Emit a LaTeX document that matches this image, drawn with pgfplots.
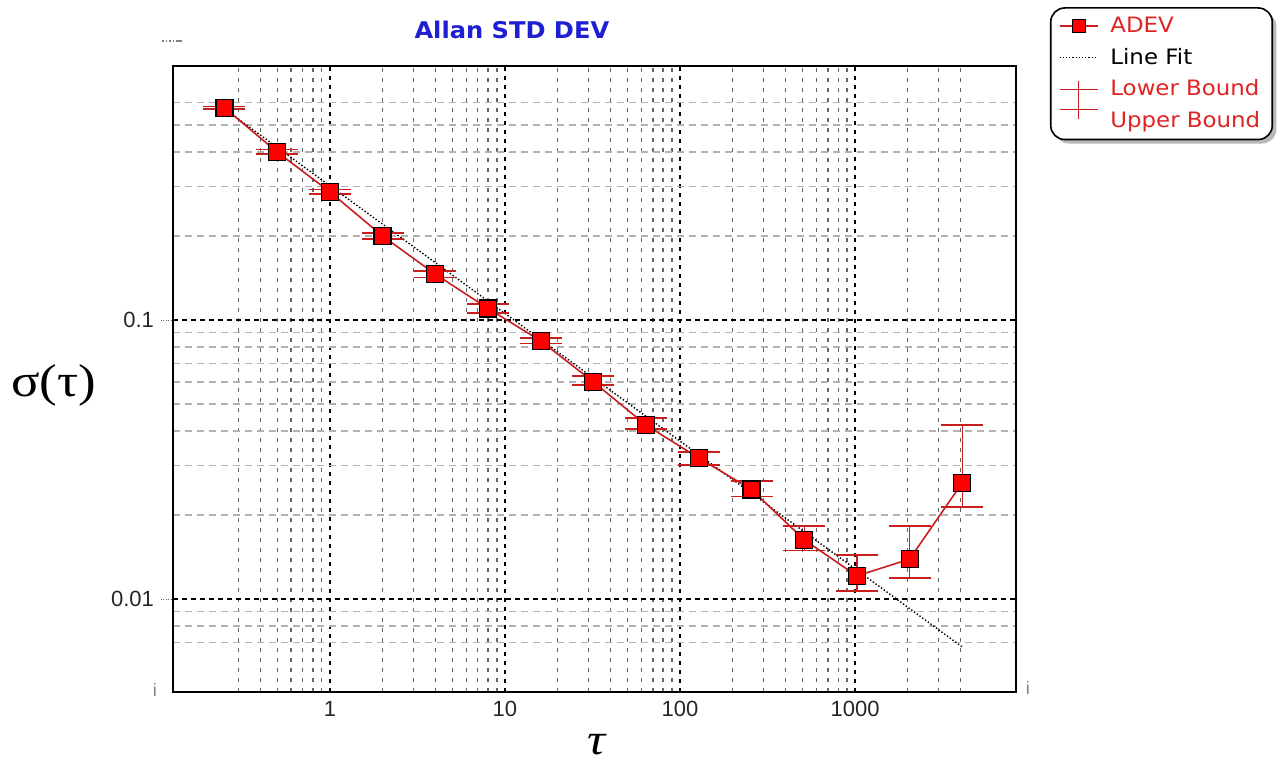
\documentclass[border=0pt]{standalone}
\usepackage{fontspec}
\setmainfont{Liberation Sans}
\newfontfamily\legfont[FakeStretch=1.08]{DejaVu Sans}
\newfontfamily\titlefont[FakeStretch=1.05]{DejaVu Sans}
\newfontfamily\bigserif[FakeStretch=1.15]{Liberation Serif}
\usepackage{pgfplots}
\usepackage{pgfplotstable}
\pgfplotsset{compat=1.18}
\usetikzlibrary{shadows}
\makeatletter
\tikzset{nopre/.code={\def\tikz@preactions{}}}
\makeatother
\definecolor{adevred}{RGB}{200,30,30}
\definecolor{legred}{RGB}{225,35,35}
\definecolor{titleblue}{RGB}{30,30,210}

\pgfplotstableread{
x y ep em
0.25 0.576 0.005 0.005
0.5 0.400 0.009 0.007
1 0.288 0.005 0.005
2 0.200 0.005 0.005
4 0.146 0.004 0.004
8 0.110 0.004 0.004
16 0.0842 0.0020 0.0018
32 0.0600 0.0030 0.0015
64 0.0420 0.0025 0.0013
128 0.0320 0.0017 0.0018
256 0.0247 0.0018 0.0014
512 0.0163 0.0020 0.0014
1024 0.0121 0.0023 0.0014
2048 0.0139 0.0044 0.0020
4096 0.0261 0.0160 0.0047
}\adev

\begin{document}
\begin{tikzpicture}
\useasboundingbox (-86.5pt,-41pt) rectangle (553.5pt,346pt);
\begin{axis}[
  at={(0,0)}, anchor=south west,
  scale only axis, width=421.5pt, height=313pt,
  clip mode=individual,
  xmode=log, ymode=log,
  xmin=0.127, xmax=8300, ymin=0.004642, ymax=0.8136,
  xtick={1,10,100,1000}, xticklabels={1,10,100,1000},
  ytick={0.01,0.1}, yticklabels={0.01,0.1},
  minor xtick={0.3,0.4,0.5,0.6,0.7,0.8,0.9,2,3,4,5,6,7,8,9,20,30,40,50,60,70,80,90,200,300,400,500,600,700,800,900,2000,3000,4000},
  minor ytick={0.007,0.008,0.009,0.02,0.03,0.04,0.05,0.06,0.07,0.08,0.09,0.2,0.3,0.4,0.5,0.6},
  grid=both,
  major x grid style={black, line width=0.7pt, dash pattern=on 2pt off 2.5pt},
  major y grid style={black, line width=0.7pt, dash pattern=on 2.5pt off 2pt},
  minor x grid style={black!60, line width=0.6pt, dash pattern=on 2pt off 3pt},
  minor y grid style={black!30, line width=0.6pt, dash pattern=on 3.5pt off 2.5pt},
  axis line style={black, line width=1pt},
  tick pos=left,
  tick align=outside,
  major tick length=6pt, minor tick length=0pt,
  xtick style={draw=none},
  ytick style={black!60, densely dotted, line width=0.5pt},
  tick label style={font=\fontsize{11}{13}\selectfont, text=black!85},
  xticklabel style={yshift=5pt},
  /pgf/number format/assume math mode=true,
  xlabel={\bigserif\itshape\fontsize{22}{26}\selectfont τ},
  xlabel style={at={(axis description cs:0.502,-0.0847)}, anchor=center},
  ylabel={\bigserif\fontsize{23}{27}\selectfont σ(τ)},
  ylabel style={rotate=-90, at={(axis description cs:-0.1412,0.4904)}, anchor=center},
  legend style={at={(1.0403,1.094)}, anchor=north west,
    font=\legfont\fontsize{10.6}{12}\selectfont,
    draw=black, line width=0.8pt, rounded corners=7pt, fill=white,
    drop shadow={shadow xshift=2pt, shadow yshift=-2pt, fill=black!55},
    legend cell align=left, inner xsep=4pt, inner ysep=2.5pt, row sep=2.3pt,
    /tikz/every odd column/.append style={column sep=4pt}},
]
\addlegendimage{legend image code/.code={
  \draw[nopre, adevred, line width=0.8pt, sharp corners] (0pt,0pt)--(19pt,0pt);
  \draw[nopre, black, fill=red, line width=0.5pt, sharp corners] (6.25pt,-3.25pt) rectangle (12.75pt,3.25pt);}}
\addlegendentry{\textcolor{legred}{ADEV}}
\addlegendimage{legend image code/.code={
  \draw[nopre, black, densely dotted, line width=0.6pt, sharp corners] (0pt,0pt)--(19pt,0pt);}}
\addlegendentry{Line Fit}
\addlegendimage{legend image code/.code={
  \path[nopre] (0pt,0pt) (19pt,0pt);
  \draw[nopre, overlay, adevred, line width=0.7pt, sharp corners] (0pt,0pt)--(19pt,0pt) (0pt,-10pt)--(19pt,-10pt) (9.5pt,4pt)--(9.5pt,-15pt);}}
\addlegendentry{\textcolor{legred}{Lower Bound}}
\addlegendimage{legend image code/.code={\path[nopre] (0pt,0pt) (19pt,0pt);}}
\addlegendentry{\textcolor{legred}{Upper Bound}}

\addplot[forget plot, black, densely dotted, line width=0.7pt] coordinates {(0.25,0.571) (4096,0.00673)};
\addplot[forget plot, color=adevred, line width=0.8pt, mark=square*, mark size=4.25pt,
  mark options={fill=red, draw=black, line width=0.6pt, solid},
  error bars/.cd, y dir=both, y explicit,
  error bar style={adevred, line width=0.7pt},
  error mark options={adevred, rotate=90, mark size=10.5pt, line width=0.7pt}]
  table[x=x, y=y, y error plus=ep, y error minus=em]{\adev};

\node[font=\titlefont\bfseries\fontsize{11.5}{14}\selectfont, text=titleblue] at (rel axis cs:0.402,1.0575) {Allan STD DEV};
\node[font=\fontsize{9}{10}\selectfont, text=black!50] at (rel axis cs:-0.0214,0.004) {i};
\node[font=\fontsize{9}{10}\selectfont, text=black!50] at (rel axis cs:1.0142,0.007) {i};
\draw[black!50, densely dotted, line width=0.8pt] (rel axis cs:-0.013,1.04) -- (rel axis cs:0.003,1.04);
\draw[black!50, line width=0.8pt] (rel axis cs:0.003,1.04) -- (rel axis cs:0.011,1.04);
\end{axis}
\end{tikzpicture}
\end{document}
